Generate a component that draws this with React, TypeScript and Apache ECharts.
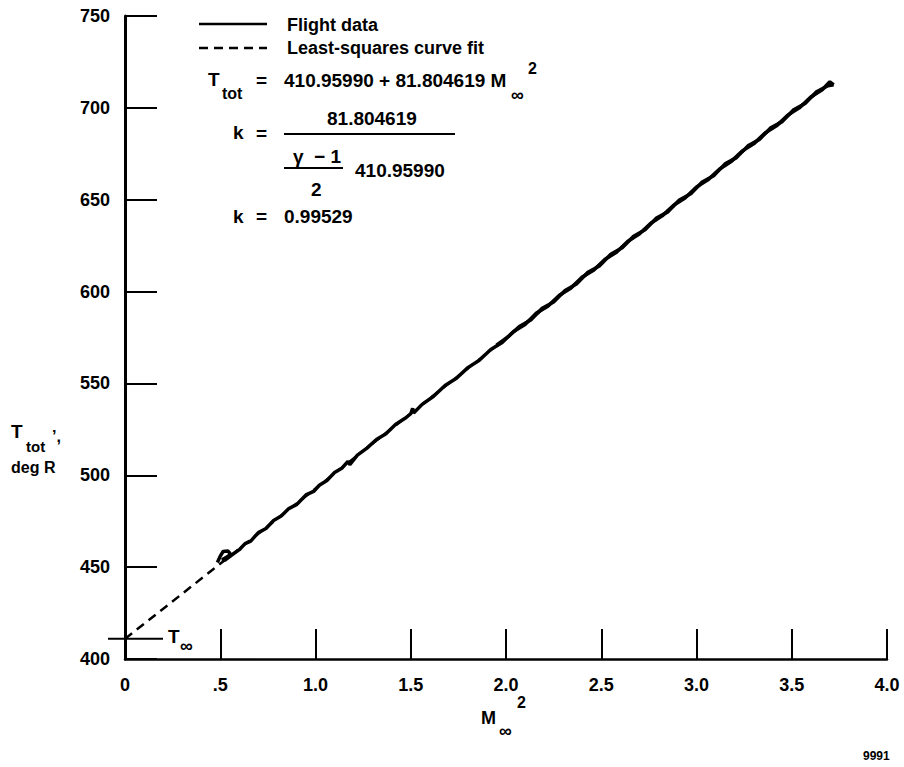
import React, { useEffect, useRef } from "react";
import * as echarts from "echarts";

// ---- data ----
const X_TICKS = [0, 0.5, 1.0, 1.5, 2.0, 2.5, 3.0, 3.5, 4.0];
const X_TICK_LABELS = ["0", ".5", "1.0", "1.5", "2.0", "2.5", "3.0", "3.5", "4.0"];
const Y_TICKS = [400, 450, 500, 550, 600, 650, 700, 750];

const T_INF = 410.9599;
const FIT_COEF = 81.804619;
const K_VALUE = "0.99529";

// least-squares fit line endpoints (M∞², T_tot)
const fitLine: [number, number][] = [
  [0, 410.96],
  [3.7, 713.64],
];

// flight data, increasing Mach (M∞², T_tot)
const flightUp: [number, number][] = [
  [0.485, 452.5], [0.5, 456.0], [0.515, 458.5], [0.54, 458.8], [0.555, 457.0],
  [0.53, 455.2], [0.51, 454.0], [0.525, 453.8], [0.56, 456.5], [0.6, 459.5],
  [0.63, 462.8], [0.66, 464.2], [0.7, 468.8], [0.74, 471.0], [0.78, 475.4],
  [0.82, 477.8], [0.86, 481.9], [0.9, 484.0], [0.95, 489.3], [0.99, 491.2],
  [1.02, 494.6], [1.06, 497.2], [1.1, 501.5], [1.14, 504.0], [1.17, 507.5],
  [1.18, 505.8], [1.22, 511.0], [1.27, 514.8], [1.32, 519.5], [1.37, 522.6],
  [1.42, 527.6], [1.47, 531.0], [1.5, 533.5], [1.51, 536.5], [1.515, 533.9],
  [1.56, 538.6], [1.62, 543.0], [1.68, 548.9], [1.74, 552.8], [1.8, 558.6],
  [1.86, 562.6], [1.92, 568.5], [1.98, 572.3], [2.04, 578.3], [2.1, 582.1],
  [2.16, 588.3], [2.22, 592.0], [2.28, 598.0], [2.34, 601.8], [2.4, 607.9],
  [2.46, 611.6], [2.52, 617.6], [2.58, 621.4], [2.64, 627.4], [2.7, 631.3],
  [2.76, 637.2], [2.82, 641.2], [2.88, 647.0], [2.94, 650.9], [3.0, 656.9],
  [3.06, 660.8], [3.12, 666.6], [3.18, 670.6], [3.24, 676.5], [3.3, 680.4],
  [3.36, 686.3], [3.42, 690.2], [3.48, 696.1], [3.54, 700.0], [3.6, 705.9],
  [3.66, 709.9], [3.7, 714.2], [3.72, 712.5],
];

// flight data, decreasing Mach (return trace)
const flightDown: [number, number][] = [
  [3.72, 712.5], [3.69, 712.0], [3.63, 708.8], [3.57, 702.4], [3.51, 699.0],
  [3.45, 692.5], [3.39, 689.2], [3.33, 682.8], [3.27, 679.3], [3.21, 672.9],
  [3.15, 669.5], [3.09, 663.0], [3.03, 659.6], [2.97, 653.2], [2.91, 649.8],
  [2.85, 643.4], [2.79, 640.0], [2.73, 633.6], [2.67, 630.1], [2.61, 623.8],
  [2.55, 620.3], [2.49, 613.9], [2.43, 610.5], [2.37, 604.1], [2.31, 600.6],
  [2.25, 594.3], [2.19, 590.9], [2.13, 584.5], [2.07, 581.0], [2.01, 575.3],
  [1.95, 570.8],
];

const FONT = "'Liberation Sans', Arial, Helvetica, sans-serif";

export default function App() {
  const ref = useRef<HTMLDivElement>(null);

  useEffect(() => {
    if (!ref.current) return;
    const chart = echarts.init(ref.current, undefined, { renderer: "svg" });

    const txt = (x: number, y: number, text: string, size = 19, extra: any = {}) => ({
      type: "text",
      x,
      y,
      silent: true,
      style: {
        text,
        fill: "#000",
        font: `bold ${size}px ${FONT}`,
        textAlign: "left",
        textVerticalAlign: "middle",
        ...extra,
      },
    });
    const ln = (x1: number, y1: number, x2: number, y2: number, w = 2, dash?: number[]) => ({
      type: "line",
      silent: true,
      shape: { x1, y1, x2, y2 },
      style: { stroke: "#000", lineWidth: w, lineDash: dash },
    });

    const lineStyleSolid = { color: "#000", width: 3.5 };

    chart.setOption({
      animation: false,
      backgroundColor: "#fff",
      grid: { left: 125, right: 17, top: 16, bottom: 108, containLabel: false },
      xAxis: {
        type: "value",
        min: 0,
        max: 4,
        interval: 0.5,
        axisLine: { show: true, onZero: false, lineStyle: { color: "#000", width: 2.5 } },
        axisTick: { show: true, inside: true, length: 30, lineStyle: { color: "#000", width: 2 } },
        splitLine: { show: false },
        axisLabel: {
          color: "#000",
          fontSize: 18,
          fontWeight: "bold",
          fontFamily: FONT,
          margin: 17,
          formatter: (v: number) => {
            const i = X_TICKS.findIndex((t) => Math.abs(t - v) < 1e-6);
            return i >= 0 ? X_TICK_LABELS[i] : "";
          },
        },
      },
      yAxis: {
        type: "value",
        min: Y_TICKS[0],
        max: Y_TICKS[Y_TICKS.length - 1],
        interval: 50,
        axisLine: { show: true, onZero: false, lineStyle: { color: "#000", width: 3 } },
        axisTick: { show: true, inside: true, length: 32, lineStyle: { color: "#000", width: 2 } },
        splitLine: { show: false },
        axisLabel: {
          color: "#000",
          fontSize: 18,
          fontWeight: "bold",
          fontFamily: FONT,
          margin: 15,
        },
      },
      series: [
        {
          name: "Least-squares curve fit",
          type: "line",
          data: fitLine,
          showSymbol: false,
          symbol: "none",
          z: 1,
          lineStyle: { color: "#000", width: 2.5, type: [9, 6] },
        },
        {
          name: "Flight data",
          type: "line",
          data: flightUp,
          showSymbol: false,
          symbol: "none",
          z: 2,
          lineStyle: lineStyleSolid,
        },
        {
          name: "Flight data",
          type: "line",
          data: flightDown,
          showSymbol: false,
          symbol: "none",
          z: 2,
          lineStyle: lineStyleSolid,
        },
      ],
    });

    const p = chart.convertToPixel({ gridIndex: 0 }, [0, T_INF]) as number[];
    const px = p[0];
    const py = p[1];

    chart.setOption({
      graphic: [
        // legend
        ln(199, 24, 267, 24, 2.5),
        txt(287, 25, "Flight data", 18),
        ln(199, 48, 267, 48, 2.5, [9, 6]),
        txt(287, 48, "Least-squares curve fit", 18),
        // T_tot equation
        txt(208, 79, "T", 19),
        txt(222, 93, "tot", 16),
        txt(256, 80, "=", 19),
        txt(284, 80, `${T_INF.toFixed(5)} + ${FIT_COEF.toFixed(6)} M`, 19),
        txt(511, 95, "∞", 18),
        txt(528, 68, "2", 16),
        // k fraction
        txt(233, 132, "k", 19),
        txt(256, 133, "=", 19),
        txt(327, 118, FIT_COEF.toFixed(6), 19),
        ln(284, 134, 455, 134, 2),
        txt(293, 156, "γ  − 1", 19),
        ln(284, 168, 343, 168, 2),
        txt(355, 170, T_INF.toFixed(5), 19),
        txt(311, 189, "2", 19),
        txt(233, 216, "k", 19),
        txt(256, 216, "=", 19),
        txt(284, 216, K_VALUE, 19),
        // y-axis title
        txt(11, 431, "T", 19),
        txt(26, 446, "tot", 15),
        txt(52, 436, "’,", 16),
        txt(11, 467, "deg R", 16),
        // x-axis title
        txt(481, 718, "M", 18),
        txt(499, 731, "∞", 18),
        txt(517, 702, "2", 16),
        // figure number
        txt(863, 756, "9991", 12),
        // T∞ marker
        ln(px - 17, py, px + 38, py, 2),
        txt(px + 43, py - 2, "T", 19),
        txt(px + 55, py + 7, "∞", 18),
      ],
    });

    return () => chart.dispose();
  }, []);

  return (
    <div
      ref={ref}
      style={{ position: "fixed", left: 0, top: 0, width: 904, height: 767, background: "#fff" }}
    />
  );
}
